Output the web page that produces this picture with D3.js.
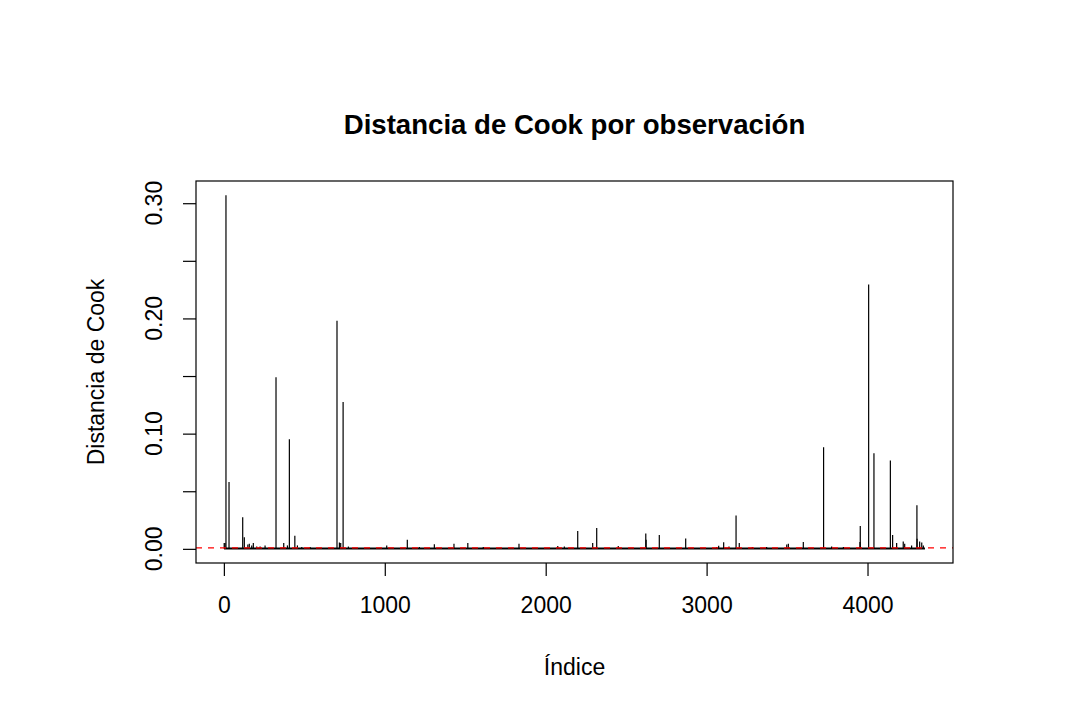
<!DOCTYPE html>
<html>
<head>
<meta charset="utf-8">
<script src="https://cdn.jsdelivr.net/npm/d3@7"></script>
<style>
  body { margin: 0; background: #fff; }
  text { font-family: "Liberation Sans", Arial, Helvetica, sans-serif; fill: #000; }
</style>
</head>
<body>
<div id="chart-area"></div>
<script>
const W = 1078, H = 703
const PLOT = { LEFT: 196, RIGHT: 953, TOP: 181, BOTTOM: 563 }

// number of observations (R index 1..n)
const nObs = 4357
// the bulk of observations sit near zero and merge into a black band
const floorCook = 0.0008
const spikeIndex = [2, 7, 13, 32, 117, 127, 149, 158, 173, 183, 204, 225, 256, 324, 372, 395, 407, 441, 457, 484, 536,
  703, 718, 726, 741, 774, 1012, 1140, 1215, 1308, 1430, 1516, 1612, 1834, 2075, 2116, 2199, 2292, 2317,
  2451, 2622, 2624, 2706, 2870, 3063, 3075, 3106, 3139, 3183, 3203, 3284, 3373, 3498, 3508, 3601, 3727,
  3777, 3850, 3953, 3955, 4007, 4040, 4142, 4156, 4181, 4222, 4231, 4274, 4307, 4308, 4324, 4337, 4347]
const spikeCook = [0.005, 0.005, 0.307, 0.058, 0.0275, 0.0101, 0.0037, 0.0045, 0.003, 0.005, 0.002, 0.002, 0.003, 0.149, 0.005, 0.003, 0.0951, 0.0113, 0.003, 0.0015, 0.0015,
  0.198, 0.0055, 0.005, 0.1275, 0.002, 0.003, 0.0078, 0.0015, 0.004, 0.0045, 0.005, 0.0015, 0.0045, 0.0025, 0.002, 0.0156, 0.005, 0.018,
  0.0025, 0.0133, 0.0078, 0.012, 0.009, 0.0015, 0.0028, 0.0058, 0.002, 0.0289, 0.005, 0.0015, 0.0015, 0.0037, 0.0045, 0.006, 0.0882,
  0.002, 0.0015, 0.006, 0.0199, 0.2295, 0.083, 0.0766, 0.0121, 0.005, 0.0064, 0.0045, 0.003, 0.0379, 0.0087, 0.0064, 0.0055, 0.003]
// cutoff 4/n drawn as red dashed line
const cutoff = 4 / nObs

const xTicks = [0, 1000, 2000, 3000, 4000]
const yTicks = [0, 0.05, 0.10, 0.15, 0.20, 0.25, 0.30]
const yLabelled = [0, 0.10, 0.20, 0.30]

const data = spikeIndex.map((d, i) => ({ idx: d, cook: spikeCook[i] }))

const svg = d3.select("#chart-area").append("svg")
  .attr("width", W)
  .attr("height", H)

// R style axis ranges: 4% padding on each side
const xMin = 1, xMax = nObs
const yMax = d3.max(spikeCook)
const xPad = (xMax - xMin) * 0.04
const x = d3.scaleLinear()
  .domain([xMin - xPad, xMax + xPad])
  .range([PLOT.LEFT, PLOT.RIGHT])
const y = d3.scaleLinear()
  .domain([-yMax * 0.04, yMax * 1.04])
  .range([PLOT.BOTTOM, PLOT.TOP])

// near-zero band of all observations
svg.append("line")
  .attr("x1", x(xMin)).attr("x2", x(xMax))
  .attr("y1", y(floorCook / 2)).attr("y2", y(floorCook / 2))
  .attr("stroke", "#000")
  .attr("stroke-width", 2)

// type = "h" spikes
svg.selectAll("line.spike")
  .data(data)
  .join("line")
  .attr("class", "spike")
  .attr("x1", d => x(d.idx)).attr("x2", d => x(d.idx))
  .attr("y1", y(0)).attr("y2", d => y(d.cook))
  .attr("stroke", "#000")
  .attr("stroke-width", 1.2)

// cutoff line
svg.append("line")
  .attr("x1", PLOT.LEFT).attr("x2", PLOT.RIGHT)
  .attr("y1", y(cutoff)).attr("y2", y(cutoff))
  .attr("stroke", "#ff0000")
  .attr("stroke-width", 1.3)
  .attr("stroke-dasharray", "6,6")

// box
svg.append("rect")
  .attr("x", PLOT.LEFT).attr("y", PLOT.TOP)
  .attr("width", PLOT.RIGHT - PLOT.LEFT)
  .attr("height", PLOT.BOTTOM - PLOT.TOP)
  .attr("fill", "none")
  .attr("stroke", "#000")
  .attr("stroke-width", 1.2)

// X axis
const gx = svg.append("g")
  .attr("transform", `translate(0,${PLOT.BOTTOM})`)
  .call(d3.axisBottom(x).tickValues(xTicks).tickSize(13).tickSizeOuter(0).tickPadding(21).tickFormat(d3.format("d")))
gx.select(".domain").remove()
gx.selectAll("line").attr("stroke", "#000").attr("stroke-width", 1.2)
gx.selectAll("text").style("font-size", "23px")
  .attr("font-family", null)

// Y axis
const gy = svg.append("g")
  .attr("transform", `translate(${PLOT.LEFT},0)`)
  .call(d3.axisLeft(y).tickValues(yTicks).tickSize(13).tickSizeOuter(0).tickFormat(""))
gy.select(".domain").remove()
gy.selectAll("line").attr("stroke", "#000").attr("stroke-width", 1.2)

svg.selectAll("text.ylab")
  .data(yLabelled)
  .join("text")
  .attr("class", "ylab")
  .attr("transform", d => `translate(162,${y(d)}) rotate(-90)`)
  .attr("text-anchor", "middle")
  .style("font-size", "23px")
  .text(d3.format(".2f"))

// titles
svg.append("text")
  .attr("x", (PLOT.LEFT + PLOT.RIGHT) / 2)
  .attr("y", 134)
  .attr("text-anchor", "middle")
  .style("font-size", "27.6px")
  .style("font-weight", "bold")
  .text("Distancia de Cook por observación")

svg.append("text")
  .attr("x", (PLOT.LEFT + PLOT.RIGHT) / 2)
  .attr("y", 675)
  .attr("text-anchor", "middle")
  .style("font-size", "23px")
  .text("Índice")

svg.append("text")
  .attr("transform", `translate(104,${(PLOT.TOP + PLOT.BOTTOM) / 2}) rotate(-90)`)
  .attr("text-anchor", "middle")
  .style("font-size", "23px")
  .text("Distancia de Cook")
</script>
</body>
</html>
